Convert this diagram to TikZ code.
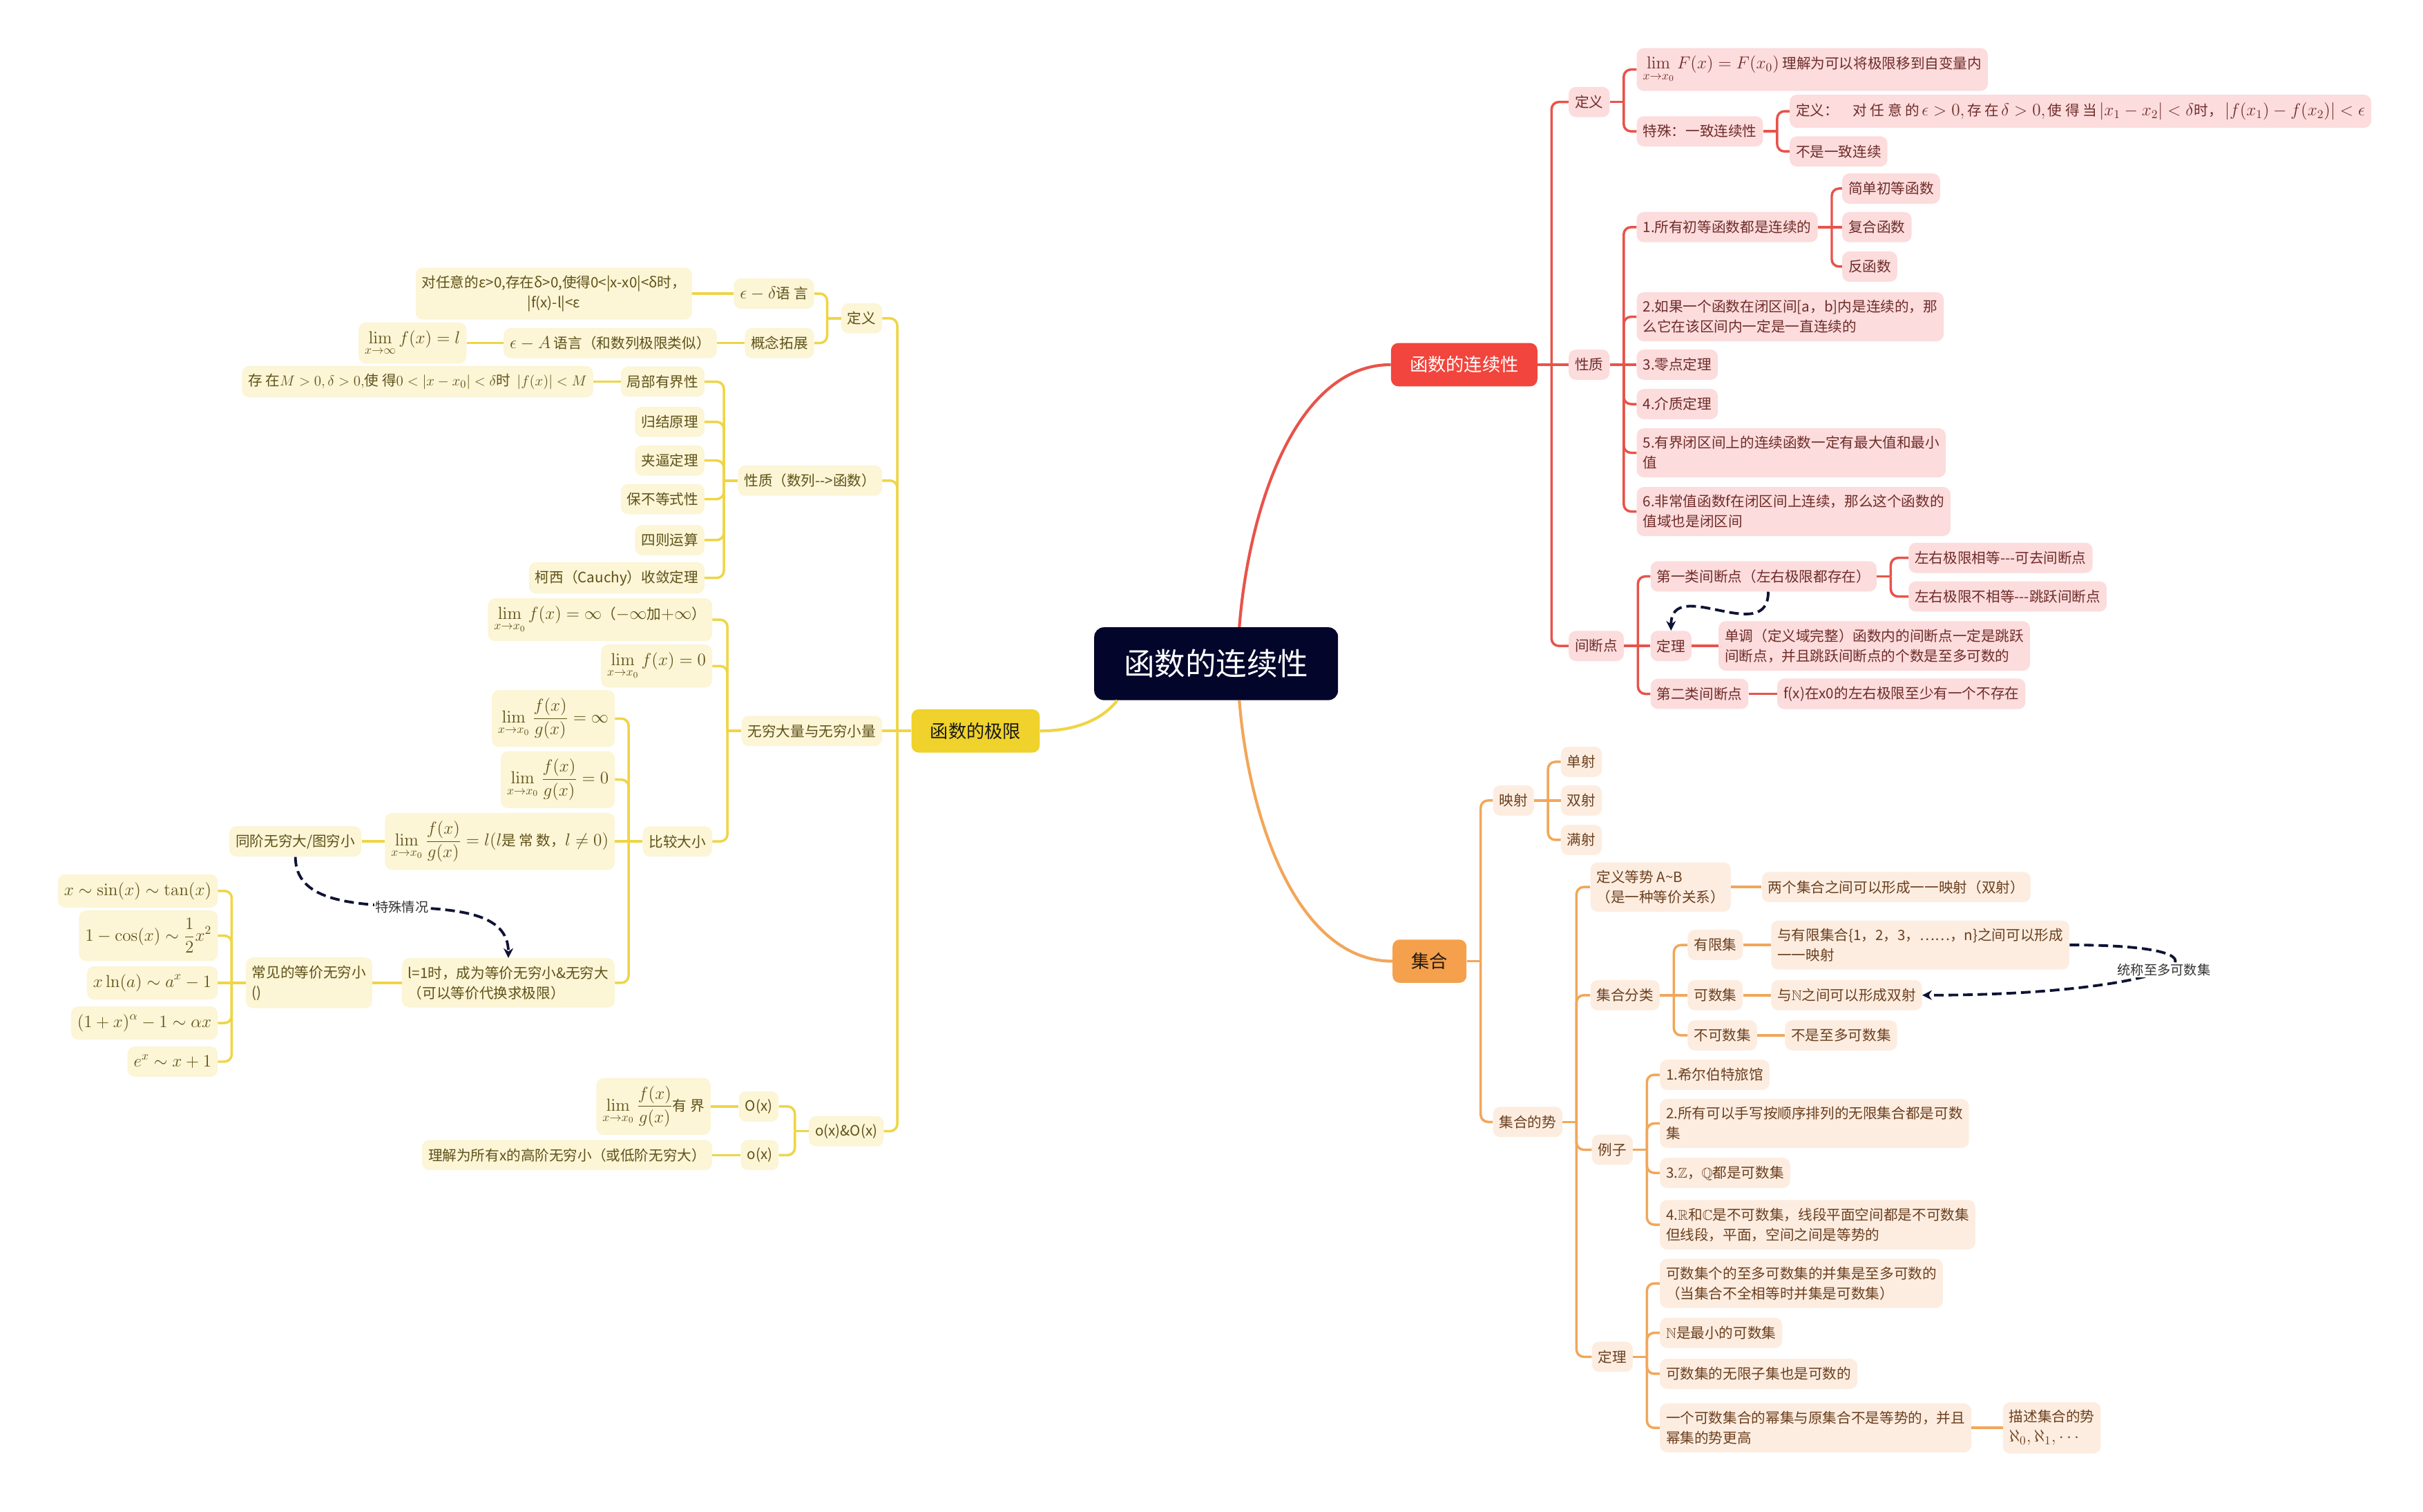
\documentclass[tikz,border=0pt]{standalone}
\usepackage{amsmath,amssymb}
\usepackage[no-math]{fontspec}
\setmainfont{Noto Sans CJK SC}
\usetikzlibrary{arrows.meta,positioning,calc}

\definecolor{rootblue}{HTML}{03052B}
\definecolor{mainred}{HTML}{F1453D}
\definecolor{mainyel}{HTML}{EFD22B}
\definecolor{mainora}{HTML}{F5A04C}
\definecolor{redfill}{HTML}{FCDCDC}
\definecolor{redline}{HTML}{E8534A}
\definecolor{redtext}{HTML}{6E2C2A}
\definecolor{orafill}{HTML}{FDEDE0}
\definecolor{oraline}{HTML}{F2A65A}
\definecolor{oratext}{HTML}{6B3F1F}
\definecolor{yelfill}{HTML}{FCF5D6}
\definecolor{yelline}{HTML}{EFD545}
\definecolor{yeltext}{HTML}{5E5118}
\definecolor{relblue}{HTML}{0F1335}

% formula a bit larger than the text
\newcommand{\fmath}[2][14.5]{{\fontsize{#1}{17}\selectfont$\displaystyle #2$}}

\tikzset{
  root/.style={rounded corners=8pt, fill=rootblue, text=white, minimum width=7.1cm,
    minimum height=2.12cm, font=\fontsize{25.5}{30}\selectfont},
  mainbox/.style={rounded corners=6pt, minimum height=1.26cm, inner xsep=0.55cm,
    font=\fontsize{15}{18}\selectfont},
  base/.style={rounded corners=6pt, inner xsep=0.18cm, inner ysep=0.23cm, minimum height=0.88cm,
    align=left, font=\fontsize{11.8}{16.6}\selectfont},
  rnode/.style={base, fill=redfill, text=redtext},
  onode/.style={base, fill=orafill, text=oratext},
  ynode/.style={base, fill=yelfill, text=yeltext},
  rl/.style={draw=redline, line width=2pt, rounded corners=6pt},
  ol/.style={draw=oraline, line width=2pt, rounded corners=6pt},
  yl/.style={draw=yelline, line width=2pt, rounded corners=6pt},
  relation/.style={draw=relblue, line width=2.2pt, dash pattern=on 8pt off 4pt,
    -{Stealth[length=8pt,width=8pt]}},
  reltext/.style={fill=white, text=black!80, inner sep=1pt, font=\fontsize{11}{13}\selectfont}
}

\begin{document}
\begin{tikzpicture}[x=0.045cm, y=-0.045cm]
  \fill[white] (0,0) rectangle (1568,978);
  \useasboundingbox (0,0) rectangle (1568,978);

  % centro e rami principali
  \node[root] (root) at (787,429.5) {函数的连续性};
  \node[mainbox, fill=mainred, text=white, anchor=west] (lianxu) at (900,236) {函数的连续性};
  \node[mainbox, fill=mainyel, text=black!90, anchor=east] (jixian) at (673,473) {函数的极限};
  \node[mainbox, fill=mainora, text=black!80!brown, anchor=west] (jihe) at (901,622) {集合};

  \draw[draw=redline, line width=2.4pt] ($(root.north)+(15,0)$) .. controls +(6,-76) and +(-62,0) .. (lianxu.west);
  \draw[draw=oraline, line width=2.4pt] ($(root.south)+(15,0)$) .. controls +(6,76) and +(-62,0) .. (jihe.west);
  \draw[draw=yelline, line width=2.4pt] ($(root.south)+(-64,0)$) .. controls +(-10,13) and +(22,0) .. (jixian.east);

  % ramo rosso
  \node[rnode, anchor=west] (dingyi) at (1015,66) {定义};
  \node[rnode, anchor=west] (xingzhi) at (1015,236) {性质};
  \node[rnode, anchor=west] (jianduan) at (1015,418) {间断点};

  \node[rnode, anchor=west] (limF) at (1059,45) {\fmath{\lim_{x\to x_0}F(x)=F(x_0)}\ 理解为可以将极限移到自变量内};
  \node[rnode, anchor=west] (teshu) at (1059,85) {特殊：一致连续性};
  \node[rnode, anchor=west] (yzdef) at (1158,72) {定义：\quad 对 任 意 的\,\fmath{\epsilon>0,}\,存 在\,\fmath{\delta>0,}\,使 得 当\,\fmath{|x_1-x_2|<\delta}时，\,\fmath{|f(x_1)-f(x_2)|<\epsilon}};
  \node[rnode, anchor=west] (bushi) at (1158,98) {不是一致连续};

  \node[rnode, anchor=west] (p1) at (1059,147) {1.所有初等函数都是连续的};
  \node[rnode, anchor=west] (jiandan) at (1192,122) {简单初等函数};
  \node[rnode, anchor=west] (fuhe) at (1192,147) {复合函数};
  \node[rnode, anchor=west] (fan) at (1192,172.5) {反函数};
  \node[rnode, anchor=west] (p2) at (1059,205) {2.如果一个函数在闭区间[a，b]内是连续的，那\\么它在该区间内一定是一直连续的};
  \node[rnode, anchor=west] (p3) at (1059,236) {3.零点定理};
  \node[rnode, anchor=west] (p4) at (1059,261.5) {4.介质定理};
  \node[rnode, anchor=west] (p5) at (1059,293) {5.有界闭区间上的连续函数一定有最大值和最小\\值};
  \node[rnode, anchor=west] (p6) at (1059,331) {6.非常值函数f在闭区间上连续，那么这个函数的\\值域也是闭区间};

  \node[rnode, anchor=west] (diyi) at (1068,373) {第一类间断点（左右极限都存在）};
  \node[rnode, anchor=west] (kequ) at (1235,361) {左右极限相等{-}{-}{-}可去间断点};
  \node[rnode, anchor=west] (tiaoyue) at (1235,386) {左右极限不相等{-}{-}{-}跳跃间断点};
  \node[rnode, anchor=west] (jdthm) at (1068,418) {定理};
  \node[rnode, anchor=west] (dandiao) at (1112,418) {单调（定义域完整）函数内的间断点一定是跳跃\\间断点，并且跳跃间断点的个数是至多可数的};
  \node[rnode, anchor=west] (dier) at (1068,449) {第二类间断点};
  \node[rnode, anchor=west] (dierdesc) at (1150,449) {f(x)在x0的左右极限至少有一个不存在};

  \draw[rl] (lianxu.east) -- (xingzhi.west);
  \foreach \c in {dingyi,jianduan} \draw[rl] (lianxu.east) ++(9,0) |- (\c.west);
  \draw[rl] (dingyi.east) -- ++(9,0);
  \foreach \c in {limF,teshu} \draw[rl] (dingyi.east) ++(9,0) |- (\c.west);
  \draw[rl] (teshu.east) -- ++(9,0);
  \foreach \c in {yzdef,bushi} \draw[rl] (teshu.east) ++(9,0) |- (\c.west);
  \draw[rl] (xingzhi.east) -- (p3.west);
  \foreach \c in {p1,p2,p4,p5,p6} \draw[rl] (xingzhi.east) ++(9,0) |- (\c.west);
  \draw[rl] (p1.east) -- (fuhe.west);
  \foreach \c in {jiandan,fan} \draw[rl] (p1.east) ++(9,0) |- (\c.west);
  \draw[rl] (jianduan.east) -- (jdthm.west);
  \foreach \c in {diyi,dier} \draw[rl] (jianduan.east) ++(9,0) |- (\c.west);
  \draw[rl] (diyi.east) -- ++(9,0);
  \foreach \c in {kequ,tiaoyue} \draw[rl] (diyi.east) ++(9,0) |- (\c.west);
  \draw[rl] (jdthm.east) -- (dandiao.west);
  \draw[rl] (dier.east) -- (dierdesc.west);

  \draw[relation] ($(diyi.south)+(3,0)$) .. controls +(0,36) and +(0,-36) .. (jdthm.north);

  % ramo arancione
  \node[onode, anchor=west] (yingshe) at (966,518) {映射};
  \node[onode, anchor=west] (danshe) at (1010,493) {单射};
  \node[onode, anchor=west] (shuangshe) at (1010,518) {双射};
  \node[onode, anchor=west] (manshe) at (1010,543.5) {满射};
  \node[onode, anchor=west] (shi) at (966,726) {集合的势};
  \node[onode, anchor=west] (dengshi) at (1029,574) {定义等势\ A\textasciitilde B\\（是一种等价关系）};
  \node[onode, anchor=west] (dengshid) at (1140,574) {两个集合之间可以形成一一映射（双射）};
  \node[onode, anchor=west] (fenlei) at (1029,644) {集合分类};
  \node[onode, anchor=west] (youxian) at (1092,611.5) {有限集};
  \node[onode, anchor=west] (youxiand) at (1146,611.5) {与有限集合\{1，2，3，……，n\}之间可以形成\\一一映射};
  \node[onode, anchor=west] (keshu) at (1092,644) {可数集};
  \node[onode, anchor=west] (keshud) at (1146,644) {与$\mathbb{N}$之间可以形成双射};
  \node[onode, anchor=west] (bukeshu) at (1092,670) {不可数集};
  \node[onode, anchor=west] (bukeshud) at (1155,670) {不是至多可数集};
  \node[onode, anchor=west] (lizi) at (1030,744) {例子};
  \node[onode, anchor=west] (li1) at (1074,695.5) {1.希尔伯特旅馆};
  \node[onode, anchor=west] (li2) at (1074,727) {2.所有可以手写按顺序排列的无限集合都是可数\\集};
  \node[onode, anchor=west] (li3) at (1074,759) {3.$\mathbb{Z}$，$\mathbb{Q}$都是可数集};
  \node[onode, anchor=west] (li4) at (1074,792.5) {4.$\mathbb{R}$和$\mathbb{C}$是不可数集，线段平面空间都是不可数集\\但线段，平面，空间之间是等势的};
  \node[onode, anchor=west] (dingli) at (1030,878) {定理};
  \node[onode, anchor=west] (dl1) at (1074,830.5) {可数集个的至多可数集的并集是至多可数的\\（当集合不全相等时并集是可数集）};
  \node[onode, anchor=west] (dl2) at (1074,862.5) {$\mathbb{N}$是最小的可数集};
  \node[onode, anchor=west] (dl3) at (1074,889) {可数集的无限子集也是可数的};
  \node[onode, anchor=west] (dl4) at (1074,924) {一个可数集合的幂集与原集合不是等势的，并且\\幂集的势更高};
  \node[onode, anchor=west] (dl4d) at (1296,924) {描述集合的势\\\fmath{\aleph_0,\aleph_1,\cdots}};

  \draw[ol] (jihe.east) -- ++(9,0);
  \foreach \c in {yingshe,shi} \draw[ol] (jihe.east) ++(9,0) |- (\c.west);
  \draw[ol] (yingshe.east) -- (shuangshe.west);
  \foreach \c in {danshe,manshe} \draw[ol] (yingshe.east) ++(9,0) |- (\c.west);
  \draw[ol] (shi.east) -- ++(9,0);
  \foreach \c in {dengshi,fenlei,lizi,dingli} \draw[ol] (shi.east) ++(9,0) |- (\c.west);
  \draw[ol] (dengshi.east) -- (dengshid.west);
  \draw[ol] (fenlei.east) -- (keshu.west);
  \foreach \c in {youxian,bukeshu} \draw[ol] (fenlei.east) ++(9,0) |- (\c.west);
  \draw[ol] (youxian.east) -- (youxiand.west);
  \draw[ol] (keshu.east) -- (keshud.west);
  \draw[ol] (bukeshu.east) -- (bukeshud.west);
  \draw[ol] (lizi.east) -- ++(9,0);
  \foreach \c in {li1,li2,li3,li4} \draw[ol] (lizi.east) ++(9,0) |- (\c.west);
  \draw[ol] (dingli.east) -- ++(9,0);
  \foreach \c in {dl1,dl2,dl3,dl4} \draw[ol] (dingli.east) ++(9,0) |- (\c.west);
  \draw[ol] (dl4.east) -- (dl4d.west);

  \draw[relation] (youxiand.east) .. controls +(125,0) and +(165,0) .. node[reltext] {统称至多可数集} (keshud.east);

  % ramo giallo
  \node[ynode, anchor=east] (ydingyi) at (571,206) {定义};
  \node[ynode, anchor=east] (epsdelta) at (527,190) {\fmath{\epsilon-\delta}语\ 言};
  \node[ynode, anchor=east, align=center] (epsdesc) at (448,190) {对任意的ε>0,存在δ>0,使得0<|x-x0|<δ时，\\|f(x)-l|<ε};
  \node[ynode, anchor=east] (tuozhan) at (527,222) {概念拓展};
  \node[ynode, anchor=east] (epsA) at (464,222) {\fmath{\epsilon-A}\ 语言（和数列极限类似）};
  \node[ynode, anchor=east] (liminf) at (302,222) {\fmath{\lim_{x\to\infty}f(x)=l}};
  \node[ynode, anchor=east] (yxingzhi) at (571,311) {性质（数列{-}{-}>函数）};
  \node[ynode, anchor=east] (jubu) at (456,247) {局部有界性};
  \node[ynode, anchor=east] (jubud) at (384,247) {存 在\fmath[13]{M>0,\delta>0,}使 得\fmath[13]{0<|x-x_0|<\delta}时\ \ \fmath[13]{|f(x)|<M}};
  \node[ynode, anchor=east] (guijie) at (456,273) {归结原理};
  \node[ynode, anchor=east] (jiabi) at (456,298) {夹逼定理};
  \node[ynode, anchor=east] (baobu) at (456,323) {保不等式性};
  \node[ynode, anchor=east] (sizhe) at (456,349.5) {四则运算};
  \node[ynode, anchor=east] (cauchy) at (456,374) {柯西（Cauchy）收敛定理};
  \node[ynode, anchor=east] (wuqiong) at (571,473) {无穷大量与无穷小量};
  \node[ynode, anchor=east] (winf) at (461,401) {\fmath{\lim_{x\to x_0}f(x)=\infty}（\fmath{-\infty}加\fmath{+\infty}）};
  \node[ynode, anchor=east] (wzero) at (461,431) {\fmath{\lim_{x\to x_0}f(x)=0}};
  \node[ynode, anchor=east] (bijiao) at (461,544.5) {比较大小};
  \node[ynode, anchor=east] (bj1) at (398,465) {\fmath{\lim_{x\to x_0}\frac{f(x)}{g(x)}=\infty}};
  \node[ynode, anchor=east] (bj2) at (398,504.5) {\fmath{\lim_{x\to x_0}\frac{f(x)}{g(x)}=0}};
  \node[ynode, anchor=east] (bj3) at (398,544.5) {\fmath{\lim_{x\to x_0}\frac{f(x)}{g(x)}=l(l}是 常 数，\fmath{l\neq0)}};
  \node[ynode, anchor=east] (tongjie) at (234,544.5) {同阶无穷大/图穷小};
  \node[ynode, anchor=east] (dengjia) at (398,636) {l=1时，成为等价无穷小\&无穷大\\（可以等价代换求极限）};
  \node[ynode, anchor=east] (changjian) at (241,636) {常见的等价无穷小\\()};
  \node[ynode, anchor=east] (eq1) at (141,576.5) {\fmath{x\sim\sin(x)\sim\tan(x)}};
  \node[ynode, anchor=east] (eq2) at (141,605.5) {\fmath{1-\cos(x)\sim\frac{1}{2}x^2}};
  \node[ynode, anchor=east] (eq3) at (141,636) {\fmath{x\ln(a)\sim a^x-1}};
  \node[ynode, anchor=east] (eq4) at (141,662) {\fmath{(1+x)^\alpha-1\sim\alpha x}};
  \node[ynode, anchor=east] (eq5) at (141,687) {\fmath{e^x\sim x+1}};
  \node[ynode, anchor=east] (oO) at (572,732) {o(x)\&O(x)};
  \node[ynode, anchor=east] (bigO) at (504,716) {O(x)};
  \node[ynode, anchor=east] (bigOd) at (460,716) {\fmath{\lim_{x\to x_0}\frac{f(x)}{g(x)}}有\ 界};
  \node[ynode, anchor=east] (smallo) at (504,747.5) {o(x)};
  \node[ynode, anchor=east] (smallod) at (461,747.5) {理解为所有x的高阶无穷小（或低阶无穷大）};

  \draw[yl] (jixian.west) -- (wuqiong.east);
  \foreach \c in {ydingyi,yxingzhi,oO} \draw[yl] (jixian.west) ++(-9,0) |- (\c.east);
  \draw[yl] (ydingyi.west) -- ++(-9,0);
  \foreach \c in {epsdelta,tuozhan} \draw[yl] (ydingyi.west) ++(-9,0) |- (\c.east);
  \draw[yl] (epsdelta.west) -- (epsdesc.east);
  \draw[yl] (tuozhan.west) -- (epsA.east);
  \draw[yl] (epsA.west) -- (liminf.east);
  \draw[yl] (yxingzhi.west) -- ++(-9,0);
  \foreach \c in {jubu,guijie,jiabi,baobu,sizhe,cauchy} \draw[yl] (yxingzhi.west) ++(-9,0) |- (\c.east);
  \draw[yl] (jubu.west) -- (jubud.east);
  \draw[yl] (wuqiong.west) -- ++(-9,0);
  \foreach \c in {winf,wzero,bijiao} \draw[yl] (wuqiong.west) ++(-9,0) |- (\c.east);
  \draw[yl] (bijiao.west) -- (bj3.east);
  \foreach \c in {bj1,bj2,dengjia} \draw[yl] (bijiao.west) ++(-9,0) |- (\c.east);
  \draw[yl] (bj3.west) -- (tongjie.east);
  \draw[yl] (dengjia.west) -- (changjian.east);
  \draw[yl] (changjian.west) -- (eq3.east);
  \foreach \c in {eq1,eq2,eq4,eq5} \draw[yl] (changjian.west) ++(-9,0) |- (\c.east);
  \draw[yl] (oO.west) -- ++(-9,0);
  \foreach \c in {bigO,smallo} \draw[yl] (oO.west) ++(-9,0) |- (\c.east);
  \draw[yl] (bigO.west) -- (bigOd.east);
  \draw[yl] (smallo.west) -- (smallod.east);

  \draw[relation] (tongjie.south) .. controls +(0,56) and +(0,-56) .. node[reltext] {特殊情况} (dengjia.north);
\end{tikzpicture}
\end{document}
